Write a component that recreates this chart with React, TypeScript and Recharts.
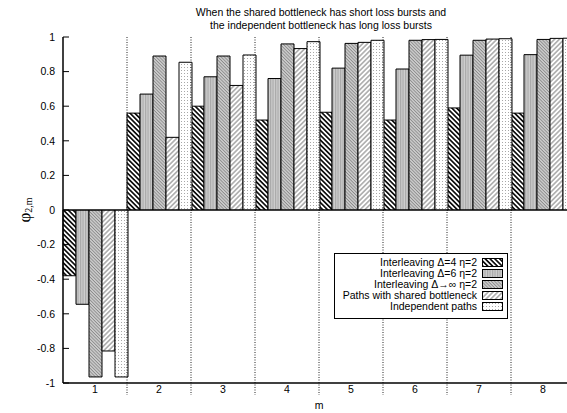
import React from "react";
import { BarChart, Bar, XAxis, YAxis, ReferenceLine, Legend } from "recharts";

const categories = ["1", "2", "3", "4", "5", "6", "7", "8"];
const delta4 = [-0.38, 0.56, 0.6, 0.52, 0.565, 0.52, 0.59, 0.56];
const delta6 = [-0.545, 0.67, 0.77, 0.76, 0.82, 0.815, 0.895, 0.898];
const deltaInf = [-0.965, 0.89, 0.89, 0.96, 0.963, 0.981, 0.981, 0.986];
const shared = [-0.815, 0.42, 0.72, 0.933, 0.969, 0.985, 0.988, 0.992];
const independent = [-0.965, 0.854, 0.896, 0.973, 0.981, 0.986, 0.99, 0.993];
const yTicks = [-1, -0.8, -0.6, -0.4, -0.2, 0, 0.2, 0.4, 0.6, 0.8, 1];
const separators = ["1", "2", "3", "4", "5", "6", "7"];

const data = categories.map((m, i) => ({
  m,
  delta4: delta4[i],
  delta6: delta6[i],
  deltaInf: deltaInf[i],
  shared: shared[i],
  independent: independent[i],
}));

const series = [
  { key: "delta4", name: "Interleaving Δ=4 η=2", fill: "url(#patDelta4)" },
  { key: "delta6", name: "Interleaving Δ=6 η=2", fill: "url(#patDelta6)" },
  { key: "deltaInf", name: "Interleaving Δ→∞ η=2", fill: "url(#patDeltaInf)" },
  { key: "shared", name: "Paths with shared bottleneck", fill: "url(#patShared)" },
  { key: "independent", name: "Independent paths", fill: "url(#patIndep)" },
];

const FONT = '"Liberation Sans", Arial, Helvetica, sans-serif';

// dotted group separators, running a bit below the x axis like gnuplot does
const Separator = (props: any) => {
  const { x1, x2, y1, y2 } = props;
  const top = Math.min(y1, y2);
  const bottom = Math.max(y1, y2) + 12;
  return (
    <line
      x1={x1}
      x2={x2}
      y1={top}
      y2={bottom}
      stroke="#222"
      strokeWidth={1}
      strokeDasharray="1 1.5"
    />
  );
};

const LegendBox = () => (
  <div
    style={{
      boxSizing: "border-box",
      width: 174,
      height: 66,
      border: "1.2px solid #000",
      background: "#fff",
      paddingTop: 3,
      fontFamily: FONT,
      fontSize: 10.5,
      color: "#000",
    }}
  >
    {series.map((s) => (
      <div
        key={s.key}
        style={{ display: "flex", alignItems: "center", height: 11, lineHeight: "11px" }}
      >
        <span style={{ width: 142, textAlign: "right", whiteSpace: "nowrap" }}>{s.name}</span>
        <svg width={22} height={9} style={{ marginLeft: 5 }}>
          <rect x={0.5} y={0.5} width={20} height={8} fill={s.fill} stroke="#000" strokeWidth={1} />
        </svg>
      </div>
    ))}
  </div>
);

export default function App() {
  return (
    <div
      style={{
        position: "absolute",
        left: 0,
        top: 0,
        width: 567,
        height: 413,
        overflow: "hidden",
        background: "#fff",
      }}
    >
      <div
        style={{
          position: "absolute",
          left: 63,
          top: 6,
          width: 516,
          textAlign: "center",
          fontFamily: FONT,
          fontSize: 10.5,
          lineHeight: "13.4px",
          color: "#000",
        }}
      >
        When the shared bottleneck has short loss bursts and
        <br />
        the independent bottleneck has long loss bursts
      </div>
      <svg
        width={50}
        height={413}
        style={{ position: "absolute", left: 0, top: 0 }}
      >
        <text
          x={24}
          y={210}
          transform="rotate(-90, 24, 210)"
          textAnchor="middle"
          dominantBaseline="central"
          fontFamily='"Liberation Serif", "DejaVu Serif", serif'
          fontSize={17}
          fill="#000"
        >
          φ
          <tspan fontSize={10} dy={4}>
            2,m
          </tspan>
        </text>
      </svg>
      <BarChart
        width={600}
        height={413}
        data={data}
        margin={{ top: 37, right: 25, bottom: 0, left: 0 }}
        barCategoryGap={0}
        barGap={0}
        style={{ position: "absolute", left: 0, top: 0 }}
      >
        <defs>
          <pattern id="patDelta4" patternUnits="userSpaceOnUse" width="3.4" height="3.4" patternTransform="rotate(-45)">
            <rect width="3.4" height="3.4" fill="#fff" />
            <line x1="1.7" y1="0" x2="1.7" y2="3.4" stroke="#000" strokeWidth="1.6" />
          </pattern>
          <pattern id="patDelta6" patternUnits="userSpaceOnUse" width="2.5" height="4">
            <rect width="2.5" height="4" fill="#cecece" />
            <line x1="0.6" y1="0" x2="0.6" y2="4" stroke="#a4a4a4" strokeWidth="1" />
          </pattern>
          <pattern id="patDeltaInf" patternUnits="userSpaceOnUse" width="2.3" height="2.3" patternTransform="rotate(-45)">
            <rect width="2.3" height="2.3" fill="#d4d4d4" />
            <line x1="1.1" y1="0" x2="1.1" y2="2.3" stroke="#8a8a8a" strokeWidth="1" />
          </pattern>
          <pattern id="patShared" patternUnits="userSpaceOnUse" width="3.4" height="3.4" patternTransform="rotate(45)">
            <rect width="3.4" height="3.4" fill="#fff" />
            <line x1="1.7" y1="0" x2="1.7" y2="3.4" stroke="#7a7a7a" strokeWidth="1" />
          </pattern>
          <pattern id="patIndep" patternUnits="userSpaceOnUse" width="3" height="3">
            <rect width="3" height="3" fill="#fff" />
            <rect x="1" y="1" width="1" height="1" fill="#a8a8a8" />
          </pattern>
        </defs>
        <XAxis
          dataKey="m"
          height={30}
          interval={0}
          tickLine={false}
          tickSize={0}
          tickMargin={3}
          axisLine={{ stroke: "#000", strokeWidth: 1.5 }}
          tick={{ fill: "#000", fontSize: 10.5, fontFamily: FONT }}
          label={{
            value: "m",
            position: "insideBottom",
            offset: 4,
            fill: "#000",
            fontSize: 10.5,
            fontFamily: FONT,
          }}
        />
        <XAxis
          xAxisId="top"
          dataKey="m"
          orientation="top"
          height={0}
          interval={0}
          mirror
          tick={false}
          tickSize={6}
          tickLine={{ stroke: "#000", strokeWidth: 1 }}
          axisLine={{ stroke: "#000", strokeWidth: 1.5 }}
        />
        <YAxis
          width={63}
          domain={[-1, 1]}
          ticks={yTicks}
          interval={0}
          allowDataOverflow
          tickSize={-6}
          tickMargin={14}
          tickLine={{ stroke: "#000", strokeWidth: 1 }}
          axisLine={{ stroke: "#000", strokeWidth: 1.5 }}
          tick={{ fill: "#000", fontSize: 10.5, fontFamily: FONT }}
          tickFormatter={(v: number) => String(v)}
        />
        {separators.map((c) => (
          <ReferenceLine key={c} x={c} position="end" shape={Separator} ifOverflow="visible" />
        ))}
        {series.map((s) => (
          <Bar
            key={s.key}
            dataKey={s.key}
            name={s.name}
            fill={s.fill}
            stroke="#000"
            strokeWidth={1}
            isAnimationActive={false}
          />
        ))}
        <ReferenceLine y={0} stroke="#000" strokeWidth={1} />
        <Legend
          layout="vertical"
          align="center"
          verticalAlign="middle"
          content={() => <LegendBox />}
          wrapperStyle={{ position: "absolute", left: 334, top: 253, width: 174, height: 66 }}
        />
      </BarChart>
    </div>
  );
}
